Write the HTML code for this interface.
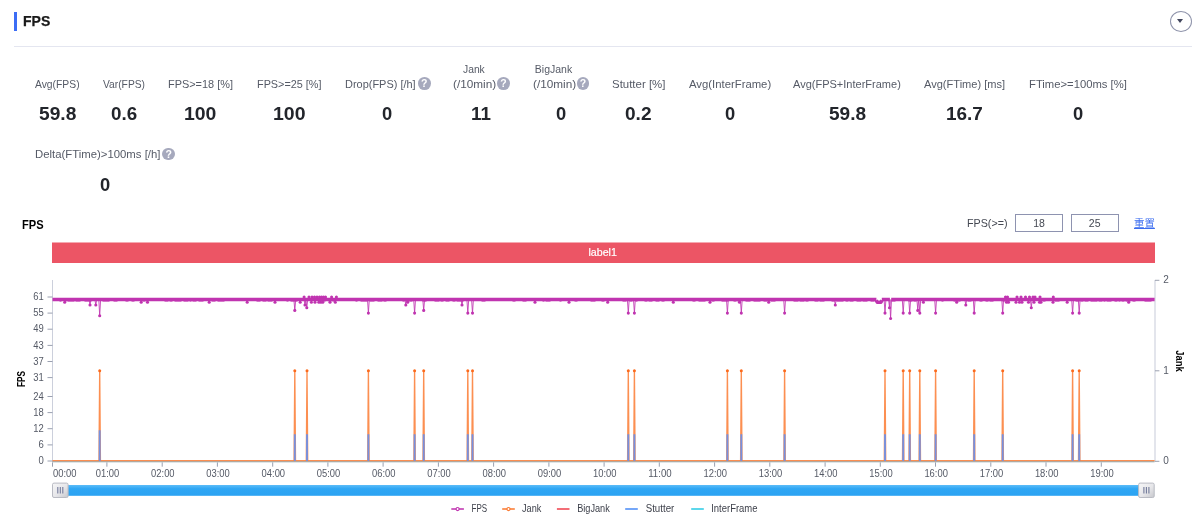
<!DOCTYPE html>
<html lang="zh-CN"><head><meta charset="utf-8"><title>FPS</title>
<style>
html,body{margin:0;padding:0;background:#fff}
body{width:1200px;height:518px;position:relative;overflow:hidden;font-family:"Liberation Sans", "Noto Sans CJK SC", sans-serif;-webkit-font-smoothing:antialiased}
.tx{position:absolute;white-space:nowrap;transform-origin:0 50%;display:block}
.rst{text-decoration:underline;text-underline-offset:1px}
.ttl{-webkit-text-stroke:0.25px #1a1a1a}
.bar{position:absolute;left:14px;top:12px;width:3px;height:19px;background:#3c6df5}
.hr{position:absolute;left:14px;top:46px;width:1178px;height:1px;background:#e4e6f0}
.dd{position:absolute;left:1170.2px;top:10.6px;width:20px;height:19px;border:1px solid #8f94ab;border-radius:50%}
.dd:after{content:"";position:absolute;left:6.3px;top:7.8px;border-left:3.7px solid transparent;border-right:3.7px solid transparent;border-top:4px solid #41455c}
.q{position:absolute;width:12.8px;height:12.8px;border-radius:50%;background:#a6a9bd;color:#fff;font-size:10.5px;line-height:13.2px;text-align:center;font-weight:700}
.inp{position:absolute;top:214px;width:46px;height:16px;border:1px solid #8e93b0;background:#fff;font-size:10.5px;line-height:16px;text-align:center;color:#444852;font-family:inherit;padding:0;margin:0;border-radius:0;outline:none}
.chart{position:absolute;left:0;top:0}
</style></head><body>
<div class="bar"></div>
<div class="hr"></div>
<div class="dd"></div>
<div class="inp" style="left:1015px">18</div>
<div class="inp" style="left:1070.7px">25</div>
<svg class="chart" width="1200" height="518" viewBox="0 0 1200 518" font-family='"Liberation Sans", "Noto Sans CJK SC", sans-serif'>
<rect x="52" y="242.5" width="1103" height="20.5" fill="#ec5565"/>
<g stroke="#ccd0dc" stroke-width="1" fill="none" shape-rendering="crispEdges">
<path d="M52.5 280V461.5"/>
</g>
<path d="M1155 280V461.8" stroke="#ccd0dc" stroke-width="1.1"/>
<g stroke="#9aa0b0" stroke-width="1" fill="none">
<path d="M47.5 297.0H52.5"/>
<path d="M47.5 313.1H52.5"/>
<path d="M47.5 329.2H52.5"/>
<path d="M47.5 345.4H52.5"/>
<path d="M47.5 361.5H52.5"/>
<path d="M47.5 377.6H52.5"/>
<path d="M47.5 396.5H52.5"/>
<path d="M47.5 412.6H52.5"/>
<path d="M47.5 428.7H52.5"/>
<path d="M47.5 444.9H52.5"/>
<path d="M47.5 461.0H52.5"/>
<path d="M1155 461.3H1159.4"/>
<path d="M1155 370.8H1159.4"/>
<path d="M1155 280.3H1159.4"/>
<path d="M52.5 462.4V466.7"/>
<path d="M106.9 462.4V466.7"/>
<path d="M162.2 462.4V466.7"/>
<path d="M217.4 462.4V466.7"/>
<path d="M272.7 462.4V466.7"/>
<path d="M327.9 462.4V466.7"/>
<path d="M383.1 462.4V466.7"/>
<path d="M438.4 462.4V466.7"/>
<path d="M493.6 462.4V466.7"/>
<path d="M548.9 462.4V466.7"/>
<path d="M604.1 462.4V466.7"/>
<path d="M659.3 462.4V466.7"/>
<path d="M714.6 462.4V466.7"/>
<path d="M769.8 462.4V466.7"/>
<path d="M825.1 462.4V466.7"/>
<path d="M880.3 462.4V466.7"/>
<path d="M935.5 462.4V466.7"/>
<path d="M990.8 462.4V466.7"/>
<path d="M1046.0 462.4V466.7"/>
<path d="M1101.3 462.4V466.7"/>
</g>
<g font-size="10" fill="#555a66">
<text x="33.2" y="300.1" textLength="10.5" lengthAdjust="spacingAndGlyphs">61</text>
<text x="33.2" y="316.2" textLength="10.5" lengthAdjust="spacingAndGlyphs">55</text>
<text x="33.2" y="332.3" textLength="10.5" lengthAdjust="spacingAndGlyphs">49</text>
<text x="33.2" y="348.5" textLength="10.5" lengthAdjust="spacingAndGlyphs">43</text>
<text x="33.2" y="364.6" textLength="10.5" lengthAdjust="spacingAndGlyphs">37</text>
<text x="33.2" y="380.7" textLength="10.5" lengthAdjust="spacingAndGlyphs">31</text>
<text x="33.2" y="399.6" textLength="10.5" lengthAdjust="spacingAndGlyphs">24</text>
<text x="33.2" y="415.7" textLength="10.5" lengthAdjust="spacingAndGlyphs">18</text>
<text x="33.2" y="431.8" textLength="10.5" lengthAdjust="spacingAndGlyphs">12</text>
<text x="38.4" y="448.0" textLength="5.3" lengthAdjust="spacingAndGlyphs">6</text>
<text x="38.4" y="464.1" textLength="5.3" lengthAdjust="spacingAndGlyphs">0</text>
<text x="1163.3" y="464.0">0</text>
<text x="1163.3" y="373.5">1</text>
<text x="1163.3" y="283.0">2</text>
<text x="53" y="476.7" textLength="23.5" lengthAdjust="spacingAndGlyphs">00:00</text>
<text x="95.8" y="476.7" textLength="23.5" lengthAdjust="spacingAndGlyphs">01:00</text>
<text x="151.1" y="476.7" textLength="23.5" lengthAdjust="spacingAndGlyphs">02:00</text>
<text x="206.3" y="476.7" textLength="23.5" lengthAdjust="spacingAndGlyphs">03:00</text>
<text x="261.6" y="476.7" textLength="23.5" lengthAdjust="spacingAndGlyphs">04:00</text>
<text x="316.8" y="476.7" textLength="23.5" lengthAdjust="spacingAndGlyphs">05:00</text>
<text x="372.0" y="476.7" textLength="23.5" lengthAdjust="spacingAndGlyphs">06:00</text>
<text x="427.3" y="476.7" textLength="23.5" lengthAdjust="spacingAndGlyphs">07:00</text>
<text x="482.5" y="476.7" textLength="23.5" lengthAdjust="spacingAndGlyphs">08:00</text>
<text x="537.8" y="476.7" textLength="23.5" lengthAdjust="spacingAndGlyphs">09:00</text>
<text x="593.0" y="476.7" textLength="23.5" lengthAdjust="spacingAndGlyphs">10:00</text>
<text x="648.2" y="476.7" textLength="23.5" lengthAdjust="spacingAndGlyphs">11:00</text>
<text x="703.5" y="476.7" textLength="23.5" lengthAdjust="spacingAndGlyphs">12:00</text>
<text x="758.7" y="476.7" textLength="23.5" lengthAdjust="spacingAndGlyphs">13:00</text>
<text x="814.0" y="476.7" textLength="23.5" lengthAdjust="spacingAndGlyphs">14:00</text>
<text x="869.2" y="476.7" textLength="23.5" lengthAdjust="spacingAndGlyphs">15:00</text>
<text x="924.4" y="476.7" textLength="23.5" lengthAdjust="spacingAndGlyphs">16:00</text>
<text x="979.7" y="476.7" textLength="23.5" lengthAdjust="spacingAndGlyphs">17:00</text>
<text x="1034.9" y="476.7" textLength="23.5" lengthAdjust="spacingAndGlyphs">18:00</text>
<text x="1090.2" y="476.7" textLength="23.5" lengthAdjust="spacingAndGlyphs">19:00</text>
</g>
<text transform="translate(24.8 379) rotate(-90)" text-anchor="middle" font-size="10.5" font-weight="700" fill="#000" textLength="16" lengthAdjust="spacingAndGlyphs">FPS</text>
<text transform="translate(1176.2 361) rotate(90)" text-anchor="middle" font-size="10.5" font-weight="700" fill="#000" textLength="21.6" lengthAdjust="spacingAndGlyphs">Jank</text>
<text x="588.4" y="256.1" font-size="11" fill="#fff" stroke="#fff" stroke-width="0.2" textLength="28.5" lengthAdjust="spacingAndGlyphs">label1</text>
<path d="M52.5 461.8H1154.6" stroke="#7f9ba2" stroke-width="1.1"/>
<path d="M52.5 460.6H1154.6" stroke="#fb7b33" stroke-width="1.2" opacity="0.85"/>
<path d="M99.00 460.8L99.70 370.5L100.40 460.8M294.10 460.8L294.80 370.5L295.50 460.8M306.30 460.8L307.00 370.5L307.70 460.8M367.70 460.8L368.40 370.5L369.10 460.8M413.90 460.8L414.60 370.5L415.30 460.8M423.00 460.8L423.70 370.5L424.40 460.8M467.10 460.8L467.80 370.5L468.50 460.8M471.80 460.8L472.50 370.5L473.20 460.8M627.60 460.8L628.30 370.5L629.00 460.8M633.70 460.8L634.40 370.5L635.10 460.8M726.70 460.8L727.40 370.5L728.10 460.8M740.60 460.8L741.30 370.5L742.00 460.8M783.90 460.8L784.60 370.5L785.30 460.8M884.30 460.8L885.00 370.5L885.70 460.8M902.50 460.8L903.20 370.5L903.90 460.8M909.00 460.8L909.70 370.5L910.40 460.8M919.10 460.8L919.80 370.5L920.50 460.8M934.90 460.8L935.60 370.5L936.30 460.8M973.50 460.8L974.20 370.5L974.90 460.8M1002.00 460.8L1002.70 370.5L1003.40 460.8M1071.90 460.8L1072.60 370.5L1073.30 460.8M1078.50 460.8L1079.20 370.5L1079.90 460.8" stroke="#fb7b33" stroke-width="1.35" fill="none" stroke-linejoin="round" opacity="0.85"/>
<circle cx="99.7" cy="370.7" r="1.5" fill="#fc6a1c"/>
<circle cx="294.8" cy="370.7" r="1.5" fill="#fc6a1c"/>
<circle cx="307.0" cy="370.7" r="1.5" fill="#fc6a1c"/>
<circle cx="368.4" cy="370.7" r="1.5" fill="#fc6a1c"/>
<circle cx="414.6" cy="370.7" r="1.5" fill="#fc6a1c"/>
<circle cx="423.7" cy="370.7" r="1.5" fill="#fc6a1c"/>
<circle cx="467.8" cy="370.7" r="1.5" fill="#fc6a1c"/>
<circle cx="472.5" cy="370.7" r="1.5" fill="#fc6a1c"/>
<circle cx="628.3" cy="370.7" r="1.5" fill="#fc6a1c"/>
<circle cx="634.4" cy="370.7" r="1.5" fill="#fc6a1c"/>
<circle cx="727.4" cy="370.7" r="1.5" fill="#fc6a1c"/>
<circle cx="741.3" cy="370.7" r="1.5" fill="#fc6a1c"/>
<circle cx="784.6" cy="370.7" r="1.5" fill="#fc6a1c"/>
<circle cx="885.0" cy="370.7" r="1.5" fill="#fc6a1c"/>
<circle cx="903.2" cy="370.7" r="1.5" fill="#fc6a1c"/>
<circle cx="909.7" cy="370.7" r="1.5" fill="#fc6a1c"/>
<circle cx="919.8" cy="370.7" r="1.5" fill="#fc6a1c"/>
<circle cx="935.6" cy="370.7" r="1.5" fill="#fc6a1c"/>
<circle cx="974.2" cy="370.7" r="1.5" fill="#fc6a1c"/>
<circle cx="1002.7" cy="370.7" r="1.5" fill="#fc6a1c"/>
<circle cx="1072.6" cy="370.7" r="1.5" fill="#fc6a1c"/>
<circle cx="1079.2" cy="370.7" r="1.5" fill="#fc6a1c"/>
<path d="M99.70 461L99.70 430.2M294.80 461L294.80 434.2M307.00 461L307.00 434.2M368.40 461L368.40 434.2M414.60 461L414.60 434.2M423.70 461L423.70 434.2M467.80 461L467.80 434.2M472.50 461L472.50 434.2M628.30 461L628.30 434.2M634.40 461L634.40 434.2M727.40 461L727.40 434.2M741.30 461L741.30 434.2M784.60 461L784.60 434.2M885.00 461L885.00 434.2M903.20 461L903.20 434.2M909.70 461L909.70 434.2M919.80 461L919.80 434.2M935.60 461L935.60 434.2M974.20 461L974.20 434.2M1002.70 461L1002.70 434.2M1072.60 461L1072.60 434.2M1079.20 461L1079.20 434.2" stroke="#6790ee" stroke-width="1.9" fill="none" opacity="0.9"/>
<path d="M52.5 299.5H876.4M881.8 299.5H889.9M891.2 299.5H1154.6" stroke="#c034b0" stroke-width="3.4"/>
<path d="M876.2 300.4L877.2 302.3H881L882 300.4" stroke="#c034b0" stroke-width="3.4" fill="none" stroke-linejoin="round"/>
<path d="M59.5 301.5h2M64.5 301.5h2M67.5 301.5h7M75.5 301.5h5M84.5 301.5h7M102.5 301.5h7M113.5 301.5h4M125.5 301.5h3M131.5 301.5h3M142.5 301.5h3M164.5 301.5h4M169.5 301.5h3M174.5 301.5h7M183.5 301.5h5M189.5 301.5h2M192.5 301.5h4M198.5 301.5h5M211.5 301.5h4M217.5 301.5h7M256.5 301.5h4M262.5 301.5h4M267.5 301.5h5M286.5 301.5h2M290.5 301.5h7M319.5 301.5h2M322.5 301.5h3M328.5 301.5h3M332.5 301.5h3M355.5 301.5h2M360.5 301.5h7M369.5 301.5h5M377.5 301.5h5M383.5 301.5h3M402.5 301.5h2M405.5 301.5h7M422.5 301.5h4M434.5 301.5h5M440.5 301.5h3M445.5 301.5h4M452.5 301.5h3M456.5 301.5h7M481.5 301.5h4M512.5 301.5h3M522.5 301.5h4M542.5 301.5h2M545.5 301.5h5M559.5 301.5h2M574.5 301.5h3M590.5 301.5h5M601.5 301.5h3M622.5 301.5h4M629.5 301.5h3M635.5 301.5h2M644.5 301.5h3M648.5 301.5h4M655.5 301.5h4M661.5 301.5h3M692.5 301.5h3M698.5 301.5h7M711.5 301.5h3M721.5 301.5h7M733.5 301.5h3M737.5 301.5h2M745.5 301.5h5M753.5 301.5h7M763.5 301.5h4M770.5 301.5h5M793.5 301.5h5M799.5 301.5h5M805.5 301.5h3M814.5 301.5h4M819.5 301.5h5M831.5 301.5h3M836.5 301.5h7M845.5 301.5h3M849.5 301.5h4M856.5 301.5h5M862.5 301.5h5M870.5 301.5h4M878.5 301.5h2M891.5 301.5h4M908.5 301.5h4M913.5 301.5h3M941.5 301.5h2M953.5 301.5h7M967.5 301.5h4M979.5 301.5h3M985.5 301.5h3M989.5 301.5h4M1002.5 301.5h7M1042.5 301.5h3M1054.5 301.5h5M1075.5 301.5h4M1080.5 301.5h3M1084.5 301.5h4M1090.5 301.5h7M1098.5 301.5h4M1103.5 301.5h2M1106.5 301.5h5M1114.5 301.5h3M1118.5 301.5h2M1121.5 301.5h3M1125.5 301.5h5M1132.5 301.5h3M1144.5 301.5h7" stroke="#c034b0" stroke-width="0.8" opacity="0.7"/>
<path d="M63.8 299.5L64.7 302.3L65.6 299.5M89.1 299.5L90.0 305.0L90.9 299.5M94.9 299.5L95.8 305.0L96.7 299.5M98.8 299.5L99.7 315.8L100.6 299.5M140.3 299.5L141.2 302.3L142.1 299.5M146.6 299.5L147.5 302.3L148.4 299.5M208.3 299.5L209.2 302.3L210.1 299.5M246.3 299.5L247.2 302.3L248.1 299.5M274.1 299.5L275.0 302.3L275.9 299.5M293.9 299.5L294.8 310.4L295.7 299.5M299.3 299.5L300.2 302.3L301.1 299.5M304.1 299.5L305.0 305.0L305.9 299.5M305.9 299.5L306.8 307.7L307.7 299.5M367.5 299.5L368.4 313.1L369.3 299.5M404.9 299.5L405.8 305.0L406.7 299.5M406.8 299.5L407.7 302.3L408.6 299.5M413.7 299.5L414.6 313.1L415.5 299.5M422.8 299.5L423.7 310.4L424.6 299.5M461.1 299.5L462.0 305.0L462.9 299.5M466.9 299.5L467.8 313.1L468.7 299.5M471.6 299.5L472.5 313.1L473.4 299.5M534.1 299.5L535.0 302.3L535.9 299.5M568.1 299.5L569.0 302.3L569.9 299.5M606.8 299.5L607.7 302.3L608.6 299.5M627.4 299.5L628.3 313.1L629.2 299.5M633.5 299.5L634.4 313.1L635.3 299.5M672.4 299.5L673.3 302.3L674.2 299.5M709.1 299.5L710.0 302.3L710.9 299.5M726.5 299.5L727.4 313.1L728.3 299.5M738.6 299.5L739.5 302.3L740.4 299.5M740.4 299.5L741.3 313.1L742.2 299.5M767.8 299.5L768.7 302.3L769.6 299.5M783.7 299.5L784.6 313.1L785.5 299.5M834.4 299.5L835.3 305.0L836.2 299.5M884.1 299.5L885.0 313.1L885.9 299.5M888.6 299.5L889.5 307.7L890.4 299.5M889.7 299.5L890.6 318.5L891.5 299.5M902.3 299.5L903.2 313.1L904.1 299.5M908.8 299.5L909.7 313.1L910.6 299.5M916.9 299.5L917.8 310.4L918.7 299.5M918.9 299.5L919.8 313.1L920.7 299.5M922.5 299.5L923.4 302.3L924.3 299.5M934.7 299.5L935.6 313.1L936.5 299.5M955.8 299.5L956.7 302.3L957.6 299.5M964.9 299.5L965.8 305.0L966.7 299.5M973.3 299.5L974.2 313.1L975.1 299.5M1001.8 299.5L1002.7 313.1L1003.6 299.5M1030.4 299.5L1031.3 307.7L1032.2 299.5M1066.3 299.5L1067.2 302.3L1068.1 299.5M1071.7 299.5L1072.6 313.1L1073.5 299.5M1078.3 299.5L1079.2 313.1L1080.1 299.5M1127.8 299.5L1128.7 302.3L1129.6 299.5" stroke="#c034b0" stroke-width="1" fill="none" stroke-linejoin="round" opacity="0.85"/>
<circle cx="64.7" cy="302.3" r="1.55" fill="#c034b0"/>
<circle cx="90.0" cy="305.0" r="1.55" fill="#c034b0"/>
<circle cx="95.8" cy="305.0" r="1.55" fill="#c034b0"/>
<circle cx="99.7" cy="315.8" r="1.55" fill="#c034b0"/>
<circle cx="141.2" cy="302.3" r="1.55" fill="#c034b0"/>
<circle cx="147.5" cy="302.3" r="1.55" fill="#c034b0"/>
<circle cx="209.2" cy="302.3" r="1.55" fill="#c034b0"/>
<circle cx="247.2" cy="302.3" r="1.55" fill="#c034b0"/>
<circle cx="275.0" cy="302.3" r="1.55" fill="#c034b0"/>
<circle cx="294.8" cy="310.4" r="1.55" fill="#c034b0"/>
<circle cx="300.2" cy="302.3" r="1.55" fill="#c034b0"/>
<circle cx="305.0" cy="305.0" r="1.55" fill="#c034b0"/>
<circle cx="306.8" cy="307.7" r="1.55" fill="#c034b0"/>
<circle cx="368.4" cy="313.1" r="1.55" fill="#c034b0"/>
<circle cx="405.8" cy="305.0" r="1.55" fill="#c034b0"/>
<circle cx="407.7" cy="302.3" r="1.55" fill="#c034b0"/>
<circle cx="414.6" cy="313.1" r="1.55" fill="#c034b0"/>
<circle cx="423.7" cy="310.4" r="1.55" fill="#c034b0"/>
<circle cx="462.0" cy="305.0" r="1.55" fill="#c034b0"/>
<circle cx="467.8" cy="313.1" r="1.55" fill="#c034b0"/>
<circle cx="472.5" cy="313.1" r="1.55" fill="#c034b0"/>
<circle cx="535.0" cy="302.3" r="1.55" fill="#c034b0"/>
<circle cx="569.0" cy="302.3" r="1.55" fill="#c034b0"/>
<circle cx="607.7" cy="302.3" r="1.55" fill="#c034b0"/>
<circle cx="628.3" cy="313.1" r="1.55" fill="#c034b0"/>
<circle cx="634.4" cy="313.1" r="1.55" fill="#c034b0"/>
<circle cx="673.3" cy="302.3" r="1.55" fill="#c034b0"/>
<circle cx="710.0" cy="302.3" r="1.55" fill="#c034b0"/>
<circle cx="727.4" cy="313.1" r="1.55" fill="#c034b0"/>
<circle cx="739.5" cy="302.3" r="1.55" fill="#c034b0"/>
<circle cx="741.3" cy="313.1" r="1.55" fill="#c034b0"/>
<circle cx="768.7" cy="302.3" r="1.55" fill="#c034b0"/>
<circle cx="784.6" cy="313.1" r="1.55" fill="#c034b0"/>
<circle cx="835.3" cy="305.0" r="1.55" fill="#c034b0"/>
<circle cx="885.0" cy="313.1" r="1.55" fill="#c034b0"/>
<circle cx="889.5" cy="307.7" r="1.55" fill="#c034b0"/>
<circle cx="890.6" cy="318.5" r="1.55" fill="#c034b0"/>
<circle cx="903.2" cy="313.1" r="1.55" fill="#c034b0"/>
<circle cx="909.7" cy="313.1" r="1.55" fill="#c034b0"/>
<circle cx="917.8" cy="310.4" r="1.55" fill="#c034b0"/>
<circle cx="919.8" cy="313.1" r="1.55" fill="#c034b0"/>
<circle cx="923.4" cy="302.3" r="1.55" fill="#c034b0"/>
<circle cx="935.6" cy="313.1" r="1.55" fill="#c034b0"/>
<circle cx="956.7" cy="302.3" r="1.55" fill="#c034b0"/>
<circle cx="965.8" cy="305.0" r="1.55" fill="#c034b0"/>
<circle cx="974.2" cy="313.1" r="1.55" fill="#c034b0"/>
<circle cx="1002.7" cy="313.1" r="1.55" fill="#c034b0"/>
<circle cx="1031.3" cy="307.7" r="1.55" fill="#c034b0"/>
<circle cx="1067.2" cy="302.3" r="1.55" fill="#c034b0"/>
<circle cx="1072.6" cy="313.1" r="1.55" fill="#c034b0"/>
<circle cx="1079.2" cy="313.1" r="1.55" fill="#c034b0"/>
<circle cx="1128.7" cy="302.3" r="1.55" fill="#c034b0"/>
<circle cx="304.1" cy="297.0" r="1.55" fill="#c034b0"/>
<circle cx="309.0" cy="297.0" r="1.55" fill="#c034b0"/>
<circle cx="312.0" cy="297.0" r="1.55" fill="#c034b0"/>
<circle cx="314.5" cy="297.0" r="1.55" fill="#c034b0"/>
<circle cx="317.0" cy="297.0" r="1.55" fill="#c034b0"/>
<circle cx="319.5" cy="297.0" r="1.55" fill="#c034b0"/>
<circle cx="321.5" cy="297.0" r="1.55" fill="#c034b0"/>
<circle cx="323.5" cy="297.0" r="1.55" fill="#c034b0"/>
<circle cx="325.5" cy="297.0" r="1.55" fill="#c034b0"/>
<circle cx="331.6" cy="297.0" r="1.55" fill="#c034b0"/>
<circle cx="336.4" cy="297.0" r="1.55" fill="#c034b0"/>
<circle cx="1005.5" cy="297.0" r="1.55" fill="#c034b0"/>
<circle cx="1007.5" cy="297.0" r="1.55" fill="#c034b0"/>
<circle cx="1017.0" cy="297.0" r="1.55" fill="#c034b0"/>
<circle cx="1021.0" cy="297.0" r="1.55" fill="#c034b0"/>
<circle cx="1025.5" cy="297.0" r="1.55" fill="#c034b0"/>
<circle cx="1029.5" cy="297.0" r="1.55" fill="#c034b0"/>
<circle cx="1033.0" cy="297.0" r="1.55" fill="#c034b0"/>
<circle cx="1035.0" cy="297.0" r="1.55" fill="#c034b0"/>
<circle cx="1040.0" cy="297.0" r="1.55" fill="#c034b0"/>
<circle cx="1053.3" cy="297.0" r="1.55" fill="#c034b0"/>
<circle cx="311.4" cy="302.3" r="1.55" fill="#c034b0"/>
<circle cx="315.0" cy="302.3" r="1.55" fill="#c034b0"/>
<circle cx="318.8" cy="302.3" r="1.55" fill="#c034b0"/>
<circle cx="320.8" cy="302.3" r="1.55" fill="#c034b0"/>
<circle cx="322.8" cy="302.3" r="1.55" fill="#c034b0"/>
<circle cx="330.0" cy="302.3" r="1.55" fill="#c034b0"/>
<circle cx="335.3" cy="302.3" r="1.55" fill="#c034b0"/>
<circle cx="1006.5" cy="302.3" r="1.55" fill="#c034b0"/>
<circle cx="1008.5" cy="302.3" r="1.55" fill="#c034b0"/>
<circle cx="1016.0" cy="302.3" r="1.55" fill="#c034b0"/>
<circle cx="1019.5" cy="302.3" r="1.55" fill="#c034b0"/>
<circle cx="1022.0" cy="302.3" r="1.55" fill="#c034b0"/>
<circle cx="1028.5" cy="302.3" r="1.55" fill="#c034b0"/>
<circle cx="1034.0" cy="302.3" r="1.55" fill="#c034b0"/>
<circle cx="1039.5" cy="302.3" r="1.55" fill="#c034b0"/>
<circle cx="1041.0" cy="302.3" r="1.55" fill="#c034b0"/>
<circle cx="1053.0" cy="302.3" r="1.55" fill="#c034b0"/>
<defs><linearGradient id="sl" x1="0" y1="0" x2="0" y2="1"><stop offset="0" stop-color="#5cbcf8"/><stop offset="0.35" stop-color="#2ea6f4"/><stop offset="1" stop-color="#2ba3f2"/></linearGradient><linearGradient id="hd" x1="0" y1="0" x2="1" y2="1"><stop offset="0" stop-color="#f6f6f7"/><stop offset="0.55" stop-color="#e6e6e9"/><stop offset="1" stop-color="#c6c7cc"/></linearGradient></defs>
<rect x="60" y="485" width="1087" height="10.8" fill="url(#sl)"/>
<rect x="52.5" y="483.1" width="15.6" height="14.4" rx="1.5" fill="url(#hd)" stroke="#b9bbc3" stroke-width="1"/>
<path d="M57.80 487V493.6" stroke="#727a9a" stroke-width="1.1"/>
<path d="M60.30 487V493.6" stroke="#727a9a" stroke-width="1.1"/>
<path d="M62.80 487V493.6" stroke="#727a9a" stroke-width="1.1"/>
<rect x="1138.6" y="483.1" width="15.6" height="14.4" rx="1.5" fill="url(#hd)" stroke="#b9bbc3" stroke-width="1"/>
<path d="M1143.90 487V493.6" stroke="#727a9a" stroke-width="1.1"/>
<path d="M1146.40 487V493.6" stroke="#727a9a" stroke-width="1.1"/>
<path d="M1148.90 487V493.6" stroke="#727a9a" stroke-width="1.1"/>
<g font-size="10.3" fill="#3e414b">
<path d="M451.3 509.0h12.6" stroke="#c034b0" stroke-width="1.55"/>
<circle cx="457.6" cy="509.0" r="1.55" fill="#fff" stroke="#c034b0" stroke-width="1.15"/>
<text x="471.6" y="512" textLength="15.6" lengthAdjust="spacingAndGlyphs">FPS</text>
<path d="M502.2 509.0h12.6" stroke="#fb7b33" stroke-width="1.55"/>
<circle cx="508.5" cy="509.0" r="1.55" fill="#fff" stroke="#fb7b33" stroke-width="1.15"/>
<text x="522" y="512" textLength="19.3" lengthAdjust="spacingAndGlyphs">Jank</text>
<path d="M556.9 509.0h12.6" stroke="#f0444f" stroke-width="1.55"/>
<text x="577.2" y="512" textLength="32.6" lengthAdjust="spacingAndGlyphs">BigJank</text>
<path d="M625.2 509.0h12.6" stroke="#4d8df6" stroke-width="1.55"/>
<text x="645.7" y="512" textLength="28.6" lengthAdjust="spacingAndGlyphs">Stutter</text>
<path d="M691.2 509.0h12.6" stroke="#2ecbe6" stroke-width="1.55"/>
<text x="711.2" y="512" textLength="46.3" lengthAdjust="spacingAndGlyphs">InterFrame</text>
</g>
</svg>
<span class="tx ttl" style="top:10.23px;font-size:15.5px;line-height:22px;color:#1a1a1a;font-weight:700;left:22.99px;transform:scaleX(0.9060);">FPS</span>
<span class="tx" style="top:76.86px;font-size:10.5px;line-height:15px;color:#555a66;left:35.20px;transform:scaleX(0.9839);">Avg(FPS)</span>
<span class="tx" style="top:101.66px;font-size:18px;line-height:25px;color:#22252b;font-weight:700;left:38.90px;transform:scaleX(1.0650);">59.8</span>
<span class="tx" style="top:76.86px;font-size:10.5px;line-height:15px;color:#555a66;left:102.90px;transform:scaleX(0.9770);">Var(FPS)</span>
<span class="tx" style="top:101.66px;font-size:18px;line-height:25px;color:#22252b;font-weight:700;left:110.60px;transform:scaleX(1.0435);">0.6</span>
<span class="tx" style="top:76.86px;font-size:10.5px;line-height:15px;color:#555a66;left:167.50px;transform:scaleX(1.0394);">FPS&gt;=18 [%]</span>
<span class="tx" style="top:101.66px;font-size:18px;line-height:25px;color:#22252b;font-weight:700;left:183.82px;transform:scaleX(1.0785);">100</span>
<span class="tx" style="top:76.86px;font-size:10.5px;line-height:15px;color:#555a66;left:256.70px;transform:scaleX(1.0330);">FPS&gt;=25 [%]</span>
<span class="tx" style="top:101.66px;font-size:18px;line-height:25px;color:#22252b;font-weight:700;left:272.52px;transform:scaleX(1.0820);">100</span>
<span class="tx" style="top:76.86px;font-size:10.5px;line-height:15px;color:#555a66;left:344.80px;transform:scaleX(1.0433);">Drop(FPS) [/h]</span>
<span class="tx" style="top:101.66px;font-size:18px;line-height:25px;color:#22252b;font-weight:700;left:382.10px;transform:scaleX(1.0200);">0</span>
<span class="tx" style="top:62.26px;font-size:10.5px;line-height:15px;color:#555a66;left:463.30px;transform:scaleX(0.9813);">Jank</span>
<span class="tx" style="top:76.86px;font-size:10.5px;line-height:15px;color:#555a66;left:453.30px;transform:scaleX(1.1207);">(/10min)</span>
<span class="tx" style="top:101.66px;font-size:18px;line-height:25px;color:#22252b;font-weight:700;left:470.56px;transform:scaleX(1.0434);">11</span>
<span class="tx" style="top:62.26px;font-size:10.5px;line-height:15px;color:#555a66;left:534.80px;">BigJank</span>
<span class="tx" style="top:76.86px;font-size:10.5px;line-height:15px;color:#555a66;left:532.50px;transform:scaleX(1.1207);">(/10min)</span>
<span class="tx" style="top:101.66px;font-size:18px;line-height:25px;color:#22252b;font-weight:700;left:555.60px;transform:scaleX(1.0200);">0</span>
<span class="tx" style="top:76.86px;font-size:10.5px;line-height:15px;color:#555a66;left:611.90px;transform:scaleX(1.0896);">Stutter [%]</span>
<span class="tx" style="top:101.66px;font-size:18px;line-height:25px;color:#22252b;font-weight:700;left:625.40px;transform:scaleX(1.0595);">0.2</span>
<span class="tx" style="top:76.86px;font-size:10.5px;line-height:15px;color:#555a66;left:688.75px;transform:scaleX(1.0779);">Avg(InterFrame)</span>
<span class="tx" style="top:101.66px;font-size:18px;line-height:25px;color:#22252b;font-weight:700;left:724.70px;transform:scaleX(1.0200);">0</span>
<span class="tx" style="top:76.86px;font-size:10.5px;line-height:15px;color:#555a66;left:793.30px;transform:scaleX(1.0489);">Avg(FPS+InterFrame)</span>
<span class="tx" style="top:101.66px;font-size:18px;line-height:25px;color:#22252b;font-weight:700;left:828.75px;transform:scaleX(1.0579);">59.8</span>
<span class="tx" style="top:76.86px;font-size:10.5px;line-height:15px;color:#555a66;left:924.00px;transform:scaleX(1.0534);">Avg(FTime) [ms]</span>
<span class="tx" style="top:101.66px;font-size:18px;line-height:25px;color:#22252b;font-weight:700;left:946.45px;transform:scaleX(1.0522);">16.7</span>
<span class="tx" style="top:76.86px;font-size:10.5px;line-height:15px;color:#555a66;left:1028.75px;transform:scaleX(1.0728);">FTime&gt;=100ms [%]</span>
<span class="tx" style="top:101.66px;font-size:18px;line-height:25px;color:#22252b;font-weight:700;left:1072.80px;transform:scaleX(1.0200);">0</span>
<span class="tx" style="top:147.16px;font-size:10.5px;line-height:15px;color:#555a66;left:35.30px;transform:scaleX(1.0810);">Delta(FTime)&gt;100ms [/h]</span>
<span class="tx" style="top:172.86px;font-size:18px;line-height:25px;color:#22252b;font-weight:700;left:100.10px;transform:scaleX(1.0200);">0</span>
<span class="tx" style="top:215.87px;font-size:12.5px;line-height:18px;color:#000;font-weight:700;left:22.10px;transform:scaleX(0.8885);">FPS</span>
<span class="tx" style="top:216.06px;font-size:10.5px;line-height:15px;color:#444852;left:966.70px;transform:scaleX(1.0209);">FPS(&gt;=)</span>
<span class="tx rst" style="top:216.26px;font-size:10.5px;line-height:15px;color:#3a6cf0;left:1134.40px;transform:scaleX(0.9951);">重置</span>
<span class="q" style="left:417.90px;top:77.00px">?</span><span class="q" style="left:497.10px;top:77.00px">?</span><span class="q" style="left:576.50px;top:77.00px">?</span><span class="q" style="left:162.40px;top:147.50px">?</span>
</body></html>
